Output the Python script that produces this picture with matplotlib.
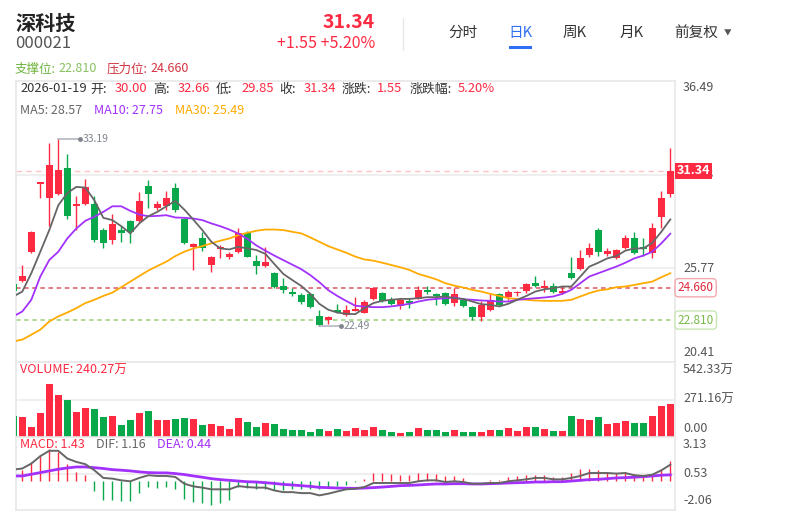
import numpy as np
import matplotlib
matplotlib.use('Agg')
from matplotlib import pyplot as plt

plt.rcParams['font.family'] = ['Noto Sans CJK SC', 'DejaVu Sans']

# daily candles (oldest first, last = 2026-01-19)
opens = [24.85, 25.05, 26.68, 30.58, 29.82, 30.01, 31.51, 29.36, 29.43, 29.475,
         27.99, 27.385, 27.955, 28.5, 28.47, 30.5, 29.25, 29.32, 30.39, 28.6,
         26.97, 27.48, 25.96, 26.85, 26.43, 26.72, 27.8, 26.21, 25.92, 25.485,
         24.78, 24.4, 24.25, 24.3, 23.05, 22.825, 23.36, 23.11, 23.34, 23.24,
         24.0, 24.345, 23.965, 23.62, 23.9, 24.02, 24.535, 24.3, 24.38, 23.81,
         23.965, 23.585, 22.98, 23.395, 24.3, 24.155, 24.345, 24.48, 24.95, 24.63,
         24.76, 24.385, 25.485, 25.71, 26.53, 27.955, 26.59, 26.34, 26.91, 27.48,
         27.0, 26.625, 28.715, 30.00]
highs = [25.0, 25.96, 27.9, 30.72, 32.93, 33.19, 32.29, 29.89, 30.9, 29.89,
         28.1, 28.9, 28.18, 28.55, 30.14, 30.84, 29.6, 30.18, 30.65, 28.65,
         27.2, 27.86, 26.5, 27.1, 26.72, 28.1, 27.9, 26.53, 26.97, 25.55,
         25.2, 24.63, 24.35, 24.38, 23.36, 23.05, 23.72, 23.7, 24.12, 23.93,
         24.68, 24.4, 24.12, 24.06, 24.06, 24.76, 24.78, 24.35, 24.42, 24.63,
         24.0, 23.6, 23.9, 24.3, 24.35, 24.535, 24.5, 24.95, 25.35, 25.1,
         24.915, 24.73, 26.435, 26.815, 27.195, 28.05, 26.91, 26.85, 27.67, 27.86,
         27.48, 28.37, 30.2, 32.66]
lows = [24.35, 25.0, 26.65, 29.82, 28.18, 29.95, 28.6, 27.96, 29.4, 27.3,
        26.91, 27.19, 27.29, 27.23, 28.4, 29.25, 29.1, 29.1, 29.0, 27.16,
        25.67, 26.76, 25.58, 26.34, 26.28, 26.66, 26.4, 25.43, 25.85, 24.65,
        24.38, 24.16, 23.72, 23.5, 22.49, 22.6, 23.2, 23.05, 23.3, 23.2,
        23.98, 23.82, 23.68, 23.43, 23.49, 24.0, 24.3, 23.68, 23.7, 23.62,
        23.58, 22.825, 22.75, 23.33, 23.6, 23.96, 24.2, 24.35, 24.7, 24.44,
        24.345, 24.3, 25.15, 25.65, 26.43, 26.47, 26.47, 26.3, 26.85, 26.6,
        26.47, 26.34, 28.05, 29.85]
closes = [24.45, 25.33, 27.86, 30.69, 31.7, 31.41, 28.77, 29.47, 30.43, 27.385,
          27.23, 28.335, 27.765, 27.84, 29.65, 30.05, 29.475, 29.82, 29.1, 27.23,
          27.14, 26.91, 26.43, 27.0, 26.57, 27.765, 26.435, 25.92, 26.15, 24.69,
          24.535, 24.3, 23.87, 23.55, 22.55, 22.97, 23.26, 23.36, 23.45, 23.87,
          24.63, 23.925, 23.74, 23.945, 23.81, 24.535, 24.42, 24.19, 23.74, 24.3,
          23.64, 22.98, 23.66, 23.965, 23.68, 24.4, 24.44, 24.87, 24.78, 24.76,
          24.44, 24.48, 25.2, 26.34, 26.91, 26.72, 26.76, 26.815, 27.48, 26.66,
          26.87, 28.1, 29.79, 31.34]

ma5 = [24.16, 24.44, 25.49, 26.72, 27.96, 29.38, 30.08, 30.43, 30.39, 29.67,
       28.66, 28.53, 28.18, 27.77, 28.34, 28.75, 29.0, 29.32, 29.63, 29.13,
       28.56, 27.96, 27.29, 26.91, 26.85, 27.0, 26.91, 26.82, 26.6, 26.02,
       25.45, 25.1, 24.76, 24.31, 23.74, 23.4, 23.24, 23.17, 23.15, 23.49,
       23.78, 23.91, 23.97, 24.02, 24.02, 24.06, 24.12, 24.12, 24.16, 24.06,
       24.02, 23.87, 23.72, 23.68, 23.59, 23.74, 23.97, 24.19, 24.44, 24.57,
       24.63, 24.73, 24.73, 25.3, 25.87, 26.09, 26.34, 26.47, 26.78, 26.91,
       26.91, 27.23, 27.86, 28.57]
ma10 = [23.02, 23.3, 23.97, 25.3, 26.25, 26.72, 27.48, 28.05, 28.49, 28.72,
        29.0, 29.32, 29.32, 29.06, 28.85, 28.75, 28.77, 28.81, 28.68, 28.66,
        28.62, 28.53, 28.34, 28.18, 27.99, 27.76, 27.46, 27.08, 26.78, 26.5,
        26.24, 25.98, 25.72, 25.38, 24.98, 24.52, 24.19, 23.9, 23.63, 23.58,
        23.55, 23.55, 23.59, 23.66, 23.74, 23.87, 23.97, 24.02, 24.06, 24.1,
        24.0, 23.97, 23.93, 23.91, 23.87, 23.87, 23.97, 24.02, 24.06, 24.1,
        24.16, 24.31, 24.54, 24.92, 25.3, 25.49, 25.68, 25.87, 26.09, 26.34,
        26.5, 26.72, 27.2, 27.75]
ma30 = [21.59, 21.69, 21.97, 22.26, 22.73, 23.02, 23.24, 23.49, 23.78, 23.97,
        24.19, 24.38, 24.69, 25.01, 25.33, 25.64, 25.9, 26.15, 26.47, 26.72,
        26.91, 27.04, 27.2, 27.35, 27.48, 27.67, 27.8, 27.92, 27.99, 27.99,
        27.96, 27.86, 27.77, 27.54, 27.29, 27.04, 26.85, 26.66, 26.44, 26.28,
        26.21, 26.09, 25.96, 25.83, 25.68, 25.45, 25.3, 25.14, 24.92, 24.78,
        24.67, 24.54, 24.44, 24.31, 24.19, 24.06, 24.02, 23.97, 23.93, 23.91,
        23.91, 23.91, 23.97, 24.16, 24.35, 24.5, 24.57, 24.69, 24.73, 24.82,
        24.92, 25.01, 25.26, 25.49]

# volume in 万 shares
volumes = [150, 143, 73, 172, 382, 302, 266, 179, 208, 201,
           143, 150, 85, 121, 172, 186, 121, 121, 131, 138,
           131, 85, 92, 78, 56, 136, 107, 70, 99, 92,
           56, 49, 49, 34, 56, 41, 56, 41, 67, 49,
           73, 49, 34, 27, 34, 63, 49, 49, 34, 49,
           34, 34, 34, 49, 49, 63, 41, 70, 70, 56,
           41, 41, 150, 128, 121, 143, 92, 99, 114, 99,
           99, 150, 222, 240.27]

macd = [0.6, 0.76, 1.32, 1.84, 2.27, 2.08, 1.24, 0.65, 0.41, -0.74,
        -1.38, -1.38, -1.43, -1.43, -0.83, -0.43, -0.47, -0.43, -0.55, -1.26,
        -1.50, -1.55, -1.69, -1.55, -1.38, -0.43, -0.50, -0.59, -0.59, -0.67,
        -0.67, -0.59, -0.59, -0.55, -0.55, -0.43, -0.36, -0.31, -0.1, 0.17,
        0.58, 0.58, 0.48, 0.46, 0.41, 0.60, 0.60, 0.53, 0.34, 0.34,
        0.22, -0.03, -0.03, 0.05, 0.05, 0.27, 0.34, 0.46, 0.46, 0.46,
        0.29, 0.29, 0.58, 0.89, 0.89, 0.77, 0.65, 0.60, 0.65, 0.53,
        0.36, 0.36, 0.77, 1.43]
dif = [0.81, 0.89, 1.24, 1.77, 2.15, 2.15, 1.60, 1.36, 1.20, 0.77,
       0.22, 0.17, 0.05, -0.02, 0.22, 0.41, 0.36, 0.36, 0.29, -0.19,
       -0.38, -0.47, -0.59, -0.59, -0.59, -0.36, -0.43, -0.47, -0.47, -0.67,
       -0.79, -0.79, -0.86, -0.86, -1.02, -0.90, -0.74, -0.59, -0.55, -0.43,
       -0.14, -0.14, -0.14, -0.14, -0.14, -0.02, 0.05, 0.05, -0.07, -0.02,
       -0.07, -0.19, -0.19, -0.14, -0.14, -0.02, 0.05, 0.12, 0.22, 0.22,
       0.12, 0.12, 0.22, 0.36, 0.57, 0.57, 0.57, 0.53, 0.57, 0.41,
       0.36, 0.45, 0.76, 1.16]
dea = [0.36, 0.36, 0.48, 0.60, 0.72, 0.84, 0.93, 1.00, 1.00, 0.95,
       0.89, 0.81, 0.77, 0.72, 0.65, 0.60, 0.58, 0.58, 0.53, 0.46,
       0.36, 0.27, 0.17, 0.10, 0.05, 0.00, -0.05, -0.07, -0.12, -0.17,
       -0.24, -0.28, -0.33, -0.38, -0.45, -0.47, -0.50, -0.51, -0.52, -0.50,
       -0.47, -0.43, -0.38, -0.33, -0.31, -0.28, -0.24, -0.21, -0.21, -0.19,
       -0.19, -0.21, -0.21, -0.19, -0.17, -0.14, -0.12, -0.10, -0.07, -0.07,
       -0.05, -0.05, 0.00, 0.05, 0.10, 0.12, 0.17, 0.22, 0.24, 0.27,
       0.31, 0.36, 0.41, 0.44]

date = '2026-01-19'
name, code = '深科技', '000021'
change, change_pct = 1.55, 5.20
support, pressure = 22.810, 24.660
price_ticks = [36.49, 31.13, 25.77, 20.41]
vol_ticks = [542.33, 271.16, 0.00]
macd_ticks = [3.13, 0.53, -2.06]

RED = '#fd2a42'
GREEN = '#08a84b'
GRAY5 = '#666666'
PURPLE = '#a232fb'
ORANGE = '#ffab00'
BORDER = '#e8e8e8'

W, H = 806, 512
fig = plt.figure(figsize=(W / 100, H / 100), dpi=100)


def px_axes(x0, y0, x1, y1):
    return fig.add_axes([x0 / W, 1 - y1 / H, (x1 - x0) / W, (y1 - y0) / H])


def ftxt(x, y, s, **kw):
    kw.setdefault('va', 'center')
    return fig.text(x / W, 1 - y / H, s, **kw)


ax_p = px_axes(16, 81, 675, 362)
ax_v = px_axes(16, 362, 675, 437)
ax_m = px_axes(16, 437, 675, 510)

idx = np.arange(len(closes))
o = np.array(opens); c = np.array(closes)
colors = [RED if cc >= oo else GREEN for oo, cc in zip(o, c)]

for ax in (ax_p, ax_v, ax_m):
    ax.set_xlim(0.3, 73.52)
    ax.set_xticks([]); ax.set_yticks([])
    for s in ax.spines.values():
        s.set_color(BORDER); s.set_linewidth(1.2)

# ---- price panel
ax_p.set_ylim(price_ticks[-1], price_ticks[0])
for t in price_ticks[1:-1]:
    ax_p.axhline(t, color='#efefef', lw=1.5, zorder=1)
ax_p.axhline(closes[-1], color='#ffc2c8', lw=1, ls=(0, (4, 3)), zorder=2)
ax_p.axhline(pressure, color='#e07078', lw=1.3, ls=(0, (2.5, 2)), zorder=2)
ax_p.axhline(support, color='#a9d98c', lw=1.3, ls=(0, (2.5, 2)), zorder=2)

ax_p.vlines(idx, lows, highs, colors=colors, lw=1, zorder=3)
body_h = np.maximum(np.abs(c - o), 0.06)
ax_p.bar(idx, body_h, 0.8, bottom=np.minimum(o, c), color=colors, lw=0, zorder=4)

ax_p.plot(idx, ma30, color=ORANGE, lw=1.3, zorder=5)
ax_p.plot(idx, ma10, color=PURPLE, lw=1.3, zorder=5)
ax_p.plot(idx, ma5, color=GRAY5, lw=1.3, zorder=5)

# max / min markers
hi_i = int(np.argmax(highs)); lo_i = int(np.argmin(lows))
for i, v in ((hi_i, highs[hi_i]), (lo_i, lows[lo_i])):
    ax_p.plot([i, i + 2.4], [v, v], color='#b4b8c0', lw=1.2, zorder=6)
    ax_p.plot([i + 2.4], [v], 'o', ms=2.5, color='#80858f', zorder=6)
    ax_p.text(i + 2.7, v, f'{v:.2f}', fontsize=7.5, color='#80858f', va='center', zorder=6)


def rlabel(ax, v, s, dy):
    ax.annotate(s, xy=(1, v), xycoords=ax.get_yaxis_transform(), xytext=(8, dy),
                textcoords='offset pixels', va='center', ha='left',
                fontsize=9, color='#555555', annotation_clip=False)


rlabel(ax_p, price_ticks[0], f'{price_ticks[0]:.2f}', -7)
rlabel(ax_p, price_ticks[1], f'{price_ticks[1]:.2f}', 0)
rlabel(ax_p, price_ticks[2], f'{price_ticks[2]:.2f}', 0)
rlabel(ax_p, price_ticks[3], f'{price_ticks[3]:.2f}', 9)

ytr = ax_p.get_yaxis_transform()
ax_p.text(1.003, closes[-1], f'{closes[-1]:.2f}', transform=ytr, va='center', ha='left',
          fontsize=9, fontweight='bold', color='white', zorder=10,
          bbox=dict(boxstyle='square,pad=0.14', fc=RED, ec='none'))
ax_p.text(1.004, pressure, f'{pressure:.3f}', transform=ytr, va='center', ha='left',
          fontsize=8.5, color='#e0283c', zorder=10,
          bbox=dict(boxstyle='round,pad=0.22,rounding_size=0.3', fc='white', ec='#f4a8b0', lw=1))
ax_p.text(1.004, support, f'{support:.3f}', transform=ytr, va='center', ha='left',
          fontsize=8.5, color='#79b84a', zorder=10,
          bbox=dict(boxstyle='round,pad=0.22,rounding_size=0.3', fc='white', ec='#c8e6b4', lw=1))

# ---- volume panel
ax_v.set_ylim(0, vol_ticks[0])
ax_v.axhline(vol_ticks[1], color='#efefef', lw=1.5, zorder=1)
ax_v.bar(idx, volumes, 0.8, color=colors, lw=0, zorder=3)
rlabel(ax_v, vol_ticks[0], f'{vol_ticks[0]:.2f}万', -8)
rlabel(ax_v, vol_ticks[1], f'{vol_ticks[1]:.2f}万', 0)
rlabel(ax_v, vol_ticks[2], f'{vol_ticks[2]:.2f}', 9)

# ---- macd panel
ax_m.set_ylim(macd_ticks[-1], macd_ticks[0])
ax_m.axhline(macd_ticks[1], color='#efefef', lw=1.5, zorder=1)
ax_m.vlines(idx, 0, macd, colors=[RED if m >= 0 else GREEN for m in macd], lw=1, zorder=3)
ax_m.plot(idx, dea, color=PURPLE, lw=2, zorder=4)
ax_m.plot(idx, dif, color=GRAY5, lw=1.4, zorder=5)
rlabel(ax_m, macd_ticks[0], f'{macd_ticks[0]:.2f}', -7)
rlabel(ax_m, macd_ticks[1], f'{macd_ticks[1]:.2f}', 0)
rlabel(ax_m, macd_ticks[2], f'{macd_ticks[2]:.2f}', 9)

# ---- header
ftxt(15, 23, name, fontsize=14.5, fontweight='bold', color='#222222')
ftxt(15, 44, code, fontsize=12, color='#555555')
ftxt(375, 23, f'{closes[-1]:.2f}', fontsize=14, fontweight='bold', color=RED, ha='right')
ftxt(375, 44, f'+{change:.2f} +{change_pct:.2f}%', fontsize=11.5, color=RED, ha='right')
fig.add_artist(plt.Line2D([403 / W, 403 / W], [1 - 18 / H, 1 - 50 / H], color=BORDER, lw=1))

tabs = ['分时', '日K', '周K', '月K', '前复权']
tab_x = [463, 520, 575, 632, 696]
for t, x in zip(tabs, tab_x):
    ftxt(x, 33, t, fontsize=10.5, ha='center', fontweight='medium',
         color='#2f6ff5' if t == '日K' else '#333333')
ftxt(728, 33, '▼', fontsize=5.5, ha='center', color='#555555')
fig.add_artist(plt.Line2D([510 / W, 530 / W], [1 - 47 / H, 1 - 47 / H], color='#2f6ff5', lw=2.2))

ftxt(15, 69, '支撑位:', fontsize=9, color='#6fb43f')
ftxt(58, 69, f'{support:.3f}', fontsize=9, color='#86c060')
ftxt(107, 69, '压力位:', fontsize=9, color='#d23440')
ftxt(150, 69, f'{pressure:.3f}', fontsize=9, color='#d23440')

# info line
info = [(20, date, '#333333'), (90, '开:', '#333333'), (115, f'{opens[-1]:.2f}', RED),
        (153, '高:', '#333333'), (178, f'{highs[-1]:.2f}', RED),
        (216, '低:', '#333333'), (241, f'{lows[-1]:.2f}', RED),
        (279, '收:', '#333333'), (304, f'{closes[-1]:.2f}', RED),
        (342, '涨跌:', '#333333'), (377, f'{change:.2f}', RED),
        (410, '涨跌幅:', '#333333'), (458, f'{change_pct:.2f}%', RED)]
for x, s, col in info:
    ftxt(x, 89, s, fontsize=9.3, color=col)

ftxt(20, 111, f'MA5: {ma5[-1]:.2f}', fontsize=9, color=GRAY5)
ftxt(94, 111, f'MA10: {ma10[-1]:.2f}', fontsize=9, color=PURPLE)
ftxt(175, 111, f'MA30: {ma30[-1]:.2f}', fontsize=9, color=ORANGE)

ftxt(20, 370, f'VOLUME: {volumes[-1]:.2f}万', fontsize=9, color=RED)
ftxt(20, 444, f'MACD: {macd[-1]:.2f}', fontsize=9, color=RED)
ftxt(96, 444, f'DIF: {dif[-1]:.2f}', fontsize=9, color=GRAY5)
ftxt(157, 444, f'DEA: {dea[-1]:.2f}', fontsize=9, color=PURPLE)

fig.savefig('out.png', dpi=100, facecolor='white')
